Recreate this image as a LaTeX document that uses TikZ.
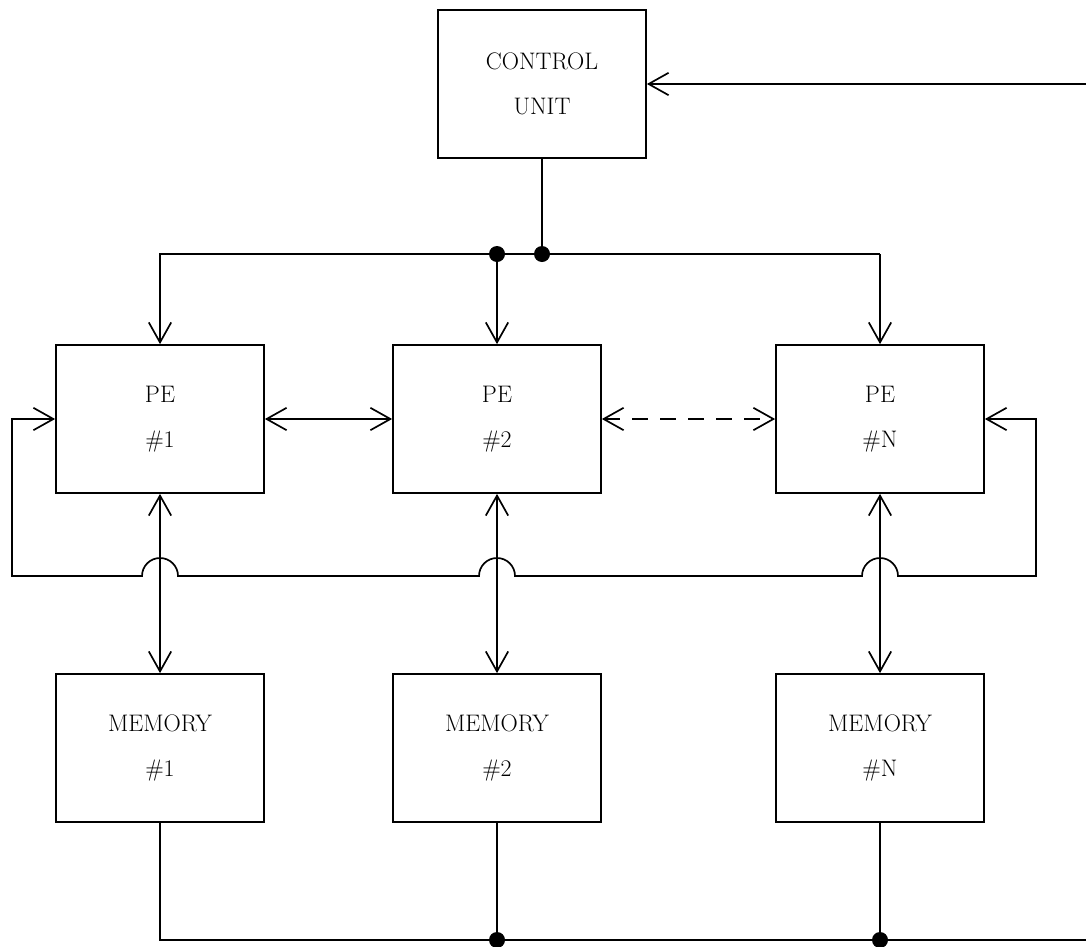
\documentclass[tikz,border=0pt]{standalone}
\usepackage{tikz}
\usetikzlibrary{arrows.meta}
\usetikzlibrary{calc}
\tikzset{unit/.style={draw, minimum width=5.2cm, minimum height=3.7cm, align=center,
  font=\fontsize{17}{32}\selectfont},
 dot/.style={circle, fill, inner sep=0pt, minimum size=0.4cm},
 wire/.style={line width=1.2pt},
 }

\begin{document}
\begin{tikzpicture}[x=0.025cm, y=-0.025cm, wire,
    >={Straight Barb[length=0.5cm, width=0.56cm]}]
        \useasboundingbox (0,0) rectangle (1086,947);
        \node[unit] (cu) at (542,84) {CONTROL\\UNIT};
        \node[unit] (pe1) at (160,419) {PE\\\#1};
        \node[unit] (pe2) at (497,419) {PE\\\#2};
        \node[unit] (pen) at (880,419) {PE\\\#N};
        \node[unit] (mem1) at (160,748) {MEMORY\\\#1};
        \node[unit] (mem2) at (497,748) {MEMORY\\\#2};
        \node[unit] (memn) at (880,748) {MEMORY\\\#N};
        \coordinate (in) at (1086,84);
        \coordinate (out) at (1086,940);
        \coordinate (bus) at (0,254);
        \coordinate (loop) at (0,576);
        \coordinate (mbus) at (0,940);
        \coordinate (lw) at (12,419);
        \coordinate (le) at (1036,419);

        \draw[->] (in) -- (cu.east);
        \draw (cu.south) -- (cu.south |- bus) node[dot] (d1) {};
        \draw[->] (pen.north |- bus) -- (pe1.north |- bus) -- (pe1.north);
        \draw[->] (pen.north |- bus) -- (pen.north);
        \draw[->] (pe2.north |- bus) node[dot] (d2) {} -- (pe2.north);

        \draw[<->] (pe1) -- (pe2);
        \draw[<->, dash pattern=on 0.4cm off 0.3cm] (pe2) -- (pen);

        \draw[<->] (pe1.west) -- (lw) -- (lw |- loop)
            -- ($(pe1.south |- loop)+(-18,0)$) arc[start angle=180, end angle=0, radius=0.45cm]
            -- ($(pe2.south |- loop)+(-18,0)$) arc[start angle=180, end angle=0, radius=0.45cm]
            -- ($(pen.south |- loop)+(-18,0)$) arc[start angle=180, end angle=0, radius=0.45cm]
            -- (le |- loop) -- (le) -- (pen.east);

        \draw[<->] (pe1) -- (mem1);
        \draw[<->] (pe2) -- (mem2);
        \draw[<->] (pen) -- (memn);

        \draw (mem1.south) -- (mem1.south |- mbus) -- (out);
        \draw (mem2.south) -- (mem2.south |- mbus) node[dot] (d3) {};
        \draw (memn.south) -- (memn.south |- mbus) node[dot] (d4) {};
    \end{tikzpicture}
\end{document}
